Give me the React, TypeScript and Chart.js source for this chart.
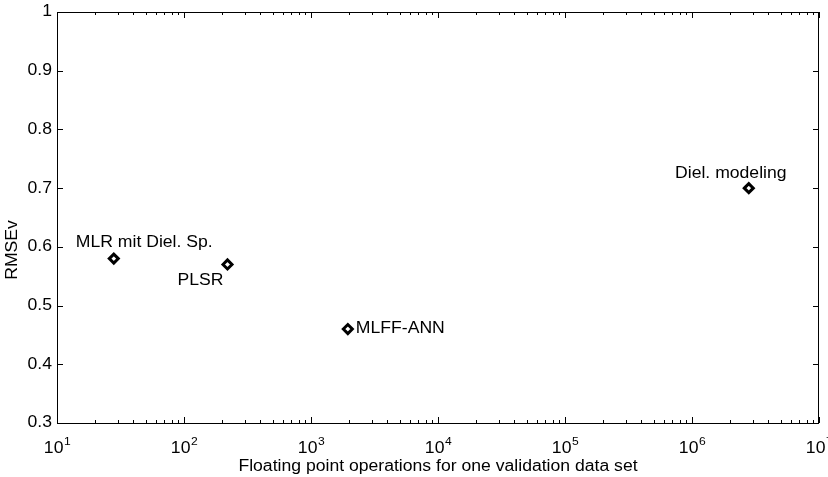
import { useEffect, useRef } from 'react';
import { Chart, registerables } from 'chart.js';

Chart.register(...registerables);

// ---- data ----
const methods = ['MLR mit Diel. Sp.', 'PLSR', 'MLFF-ANN', 'Diel. modeling'];
const flops = [28, 220, 1950, 2.8e6];
const rmse = [0.58, 0.57, 0.46, 0.7];
const xDecadeExponents = [1, 2, 3, 4, 5, 6, 7];
const yMin = 0.3;
const yMax = 1;
const yStep = 0.1;
const xTitle = 'Floating point operations for one validation data set';
const yTitle = 'RMSEv';

// ---- label placement (style, not data) ----
const labelPlacement = [
  { dx: -38, dy: -16, align: 'left' },
  { dx: -4, dy: 16, align: 'right' },
  { dx: 8, dy: 0, align: 'left' },
  { dx: -18, dy: -15, align: 'center' },
];

const FONT = '"Liberation Sans", Arial, Helvetica, sans-serif';
const TXT = 16;
const SX = 1.1; // horizontal stretch of the scanned text

function drawText(
  ctx: CanvasRenderingContext2D,
  text: string,
  x: number,
  y: number,
  align: CanvasTextAlign,
  baseline: CanvasTextBaseline,
  size: number,
  rot = 0
) {
  ctx.save();
  ctx.translate(x, y);
  if (rot) ctx.rotate(rot);
  ctx.scale(SX, 1);
  ctx.font = `${size}px ${FONT}`;
  ctx.textAlign = align;
  ctx.textBaseline = baseline;
  ctx.fillText(text, 0, 0);
  ctx.restore();
}

const decorPlugin = {
  id: 'decor',
  afterDraw(chart: any) {
    const ctx = chart.ctx as CanvasRenderingContext2D;
    const { left, right, top, bottom } = chart.chartArea;
    const xs = chart.scales.x;
    const ys = chart.scales.y;
    ctx.save();
    ctx.strokeStyle = '#000';
    ctx.lineWidth = 1;
    // frame
    ctx.strokeRect(Math.round(left) + 0.5, Math.round(top) + 0.5, Math.round(right - left) - 1, Math.round(bottom - top));
    // y ticks inward
    ctx.beginPath();
    for (const t of ys.ticks) {
      const py = Math.round(ys.getPixelForValue(t.value)) + 0.5;
      ctx.moveTo(left, py);
      ctx.lineTo(left + 6, py);
      ctx.moveTo(right - 6, py);
      ctx.lineTo(right, py);
    }
    // x ticks (log minor/major) inward
    const minE = Math.floor(Math.log10(xs.min));
    const maxE = Math.ceil(Math.log10(xs.max));
    for (let e = minE; e <= maxE; e++) {
      for (let s = 1; s <= 9; s++) {
        const v = s * Math.pow(10, e);
        if (v < xs.min * 0.999 || v > xs.max * 1.001) continue;
        const px = Math.round(xs.getPixelForValue(v)) + 0.5;
        const len = s === 1 ? 6 : 3;
        ctx.moveTo(px, bottom);
        ctx.lineTo(px, bottom - len);
        ctx.moveTo(px, top);
        ctx.lineTo(px, top + len);
      }
    }
    ctx.stroke();

    ctx.fillStyle = '#000';
    // y tick labels
    for (const t of ys.ticks) {
      const v = t.value;
      const lbl = Math.abs(v - 1) < 1e-9 ? '1' : Number(v).toFixed(1);
      drawText(ctx, lbl, left - 5, ys.getPixelForValue(v), 'right', 'middle', TXT);
    }
    // x tick labels with superscripts
    const expSize = Math.round(TXT * 0.68);
    for (const e of xDecadeExponents) {
      const px = xs.getPixelForValue(Math.pow(10, e));
      ctx.font = `${TXT}px ${FONT}`;
      const wBase = ctx.measureText('10').width * SX;
      ctx.font = `${expSize}px ${FONT}`;
      const wExp = ctx.measureText(String(e)).width * SX;
      const start = px - (wBase + wExp) / 2;
      drawText(ctx, '10', start, 453, 'left', 'alphabetic', TXT);
      drawText(ctx, String(e), start + wBase + 0.5, 445, 'left', 'alphabetic', expSize);
    }
    // x title
    drawText(ctx, xTitle, (left + right) / 2, 467, 'center', 'middle', TXT);
    // y title
    drawText(ctx, yTitle, 13, 250, 'center', 'middle', TXT, -Math.PI / 2);
    // point annotations
    const meta = chart.getDatasetMeta(0);
    meta.data.forEach((pt: any, i: number) => {
      const p = labelPlacement[i];
      drawText(ctx, methods[i], pt.x + p.dx, pt.y + p.dy, p.align as CanvasTextAlign, 'middle', TXT);
    });
    ctx.restore();
  },
};

export default function App() {
  const ref = useRef<HTMLCanvasElement | null>(null);
  useEffect(() => {
    if (!ref.current) return;
    const chart = new Chart(ref.current, {
      type: 'scatter',
      data: {
        datasets: [
          {
            data: flops.map((f, i) => ({ x: f, y: rmse[i] })),
            pointStyle: 'rectRot',
            pointRadius: 4.5,
            pointBorderWidth: 3,
            pointBackgroundColor: '#fff',
            pointBorderColor: '#000',
            showLine: false,
            clip: false as any,
          },
        ],
      },
      options: {
        animation: false,
        responsive: false,
        devicePixelRatio: 1,
        layout: { padding: { top: 12, right: 9, left: 0, bottom: 0 } },
        plugins: {
          legend: { display: false },
          tooltip: { enabled: false },
        },
        scales: {
          x: {
            type: 'logarithmic',
            min: Math.pow(10, xDecadeExponents[0]),
            max: Math.pow(10, xDecadeExponents[xDecadeExponents.length - 1]),
            grid: { display: false },
            border: { display: false },
            ticks: { display: false },
            afterFit: (s: any) => {
              s.height = 54;
            },
          },
          y: {
            type: 'linear',
            min: yMin,
            max: yMax,
            grid: { display: false, drawTicks: false },
            border: { display: false },
            ticks: { display: false, stepSize: yStep },
            afterFit: (s: any) => {
              s.width = 57;
            },
          },
        },
      },
      plugins: [decorPlugin],
    });
    return () => chart.destroy();
  }, []);
  return (
    <div style={{ position: 'absolute', left: 0, top: 0, width: 828, height: 477, background: '#fff' }}>
      <canvas ref={ref} width={828} height={477} style={{ display: 'block' }} />
    </div>
  );
}
